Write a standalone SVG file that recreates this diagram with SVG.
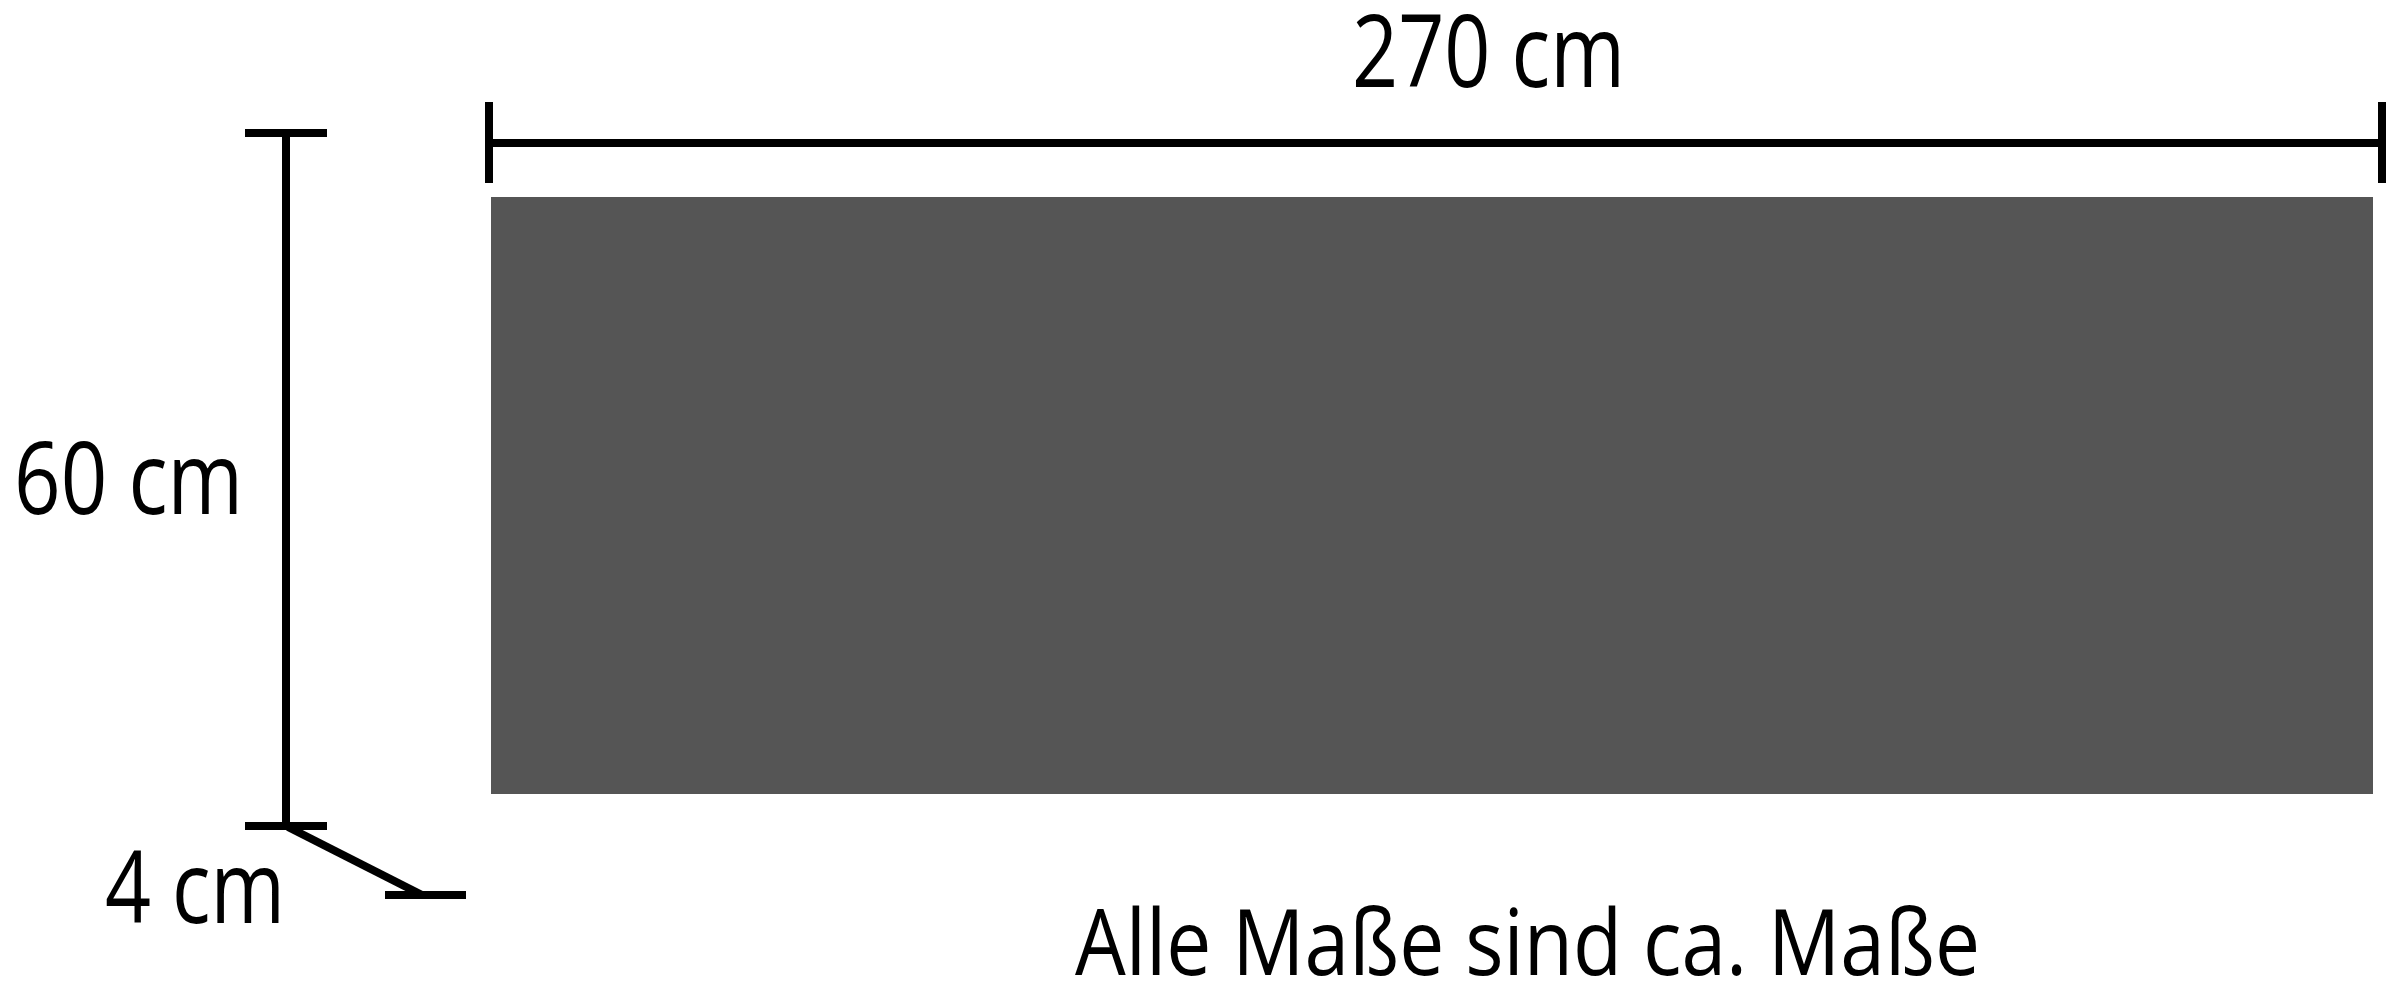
<svg xmlns="http://www.w3.org/2000/svg" width="2400" height="989" viewBox="0 0 2400 989">
<style>
.dim{stroke:#000;stroke-width:8;fill:none;stroke-linecap:butt}
.lbl{font-family:"Open Sans","Noto Sans",sans-serif;fill:#000}
</style>
<rect width="2400" height="989" fill="#fff"/>
<g id="panel">
<rect x="491" y="197" width="1882" height="597" fill="#555555"/>
</g>
<g id="connectors">
<line class="dim" x1="489" y1="143" x2="2382" y2="143"/>
<line class="dim" x1="489" y1="102" x2="489" y2="183"/>
<line class="dim" x1="2382" y1="102" x2="2382" y2="183"/>
<line class="dim" x1="286" y1="133" x2="286" y2="826"/>
<line class="dim" x1="245" y1="133" x2="327" y2="133"/>
<line class="dim" x1="245" y1="826" x2="327" y2="826"/>
<line class="dim" x1="288" y1="827" x2="422" y2="895"/>
<line class="dim" x1="385" y1="895" x2="466" y2="895"/>
</g>
<g id="label-width">
<text class="lbl" x="1352" y="87" font-size="100" textLength="273" lengthAdjust="spacingAndGlyphs">270 cm</text>
</g>
<g id="label-height">
<text class="lbl" x="14" y="514" font-size="100" textLength="229" lengthAdjust="spacingAndGlyphs">60 cm</text>
</g>
<g id="label-depth">
<text class="lbl" x="105" y="923" font-size="100" textLength="180" lengthAdjust="spacingAndGlyphs">4 cm</text>
</g>
<g id="note">
<text class="lbl" x="1075" y="975" font-size="92" textLength="905" lengthAdjust="spacingAndGlyphs">Alle Maße sind ca. Maße</text>
</g>
</svg>
